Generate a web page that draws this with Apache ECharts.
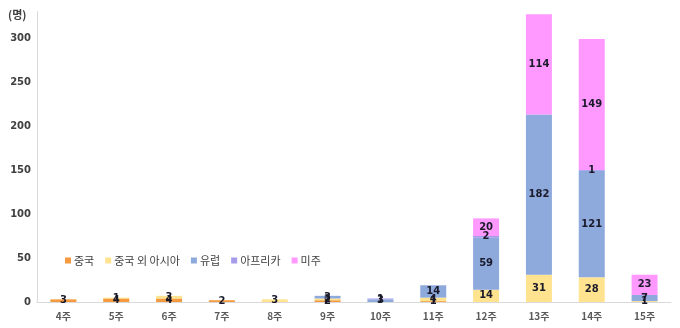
<!DOCTYPE html>
<html><head><meta charset="utf-8">
<script src="https://cdn.jsdelivr.net/npm/echarts@6/dist/echarts.min.js"></script>
<style>html,body{margin:0;padding:0;background:#fff}#c{width:680px;height:328px}</style>
</head><body><div id="c"></div>
<script>
const weeks = ['4주','5주','6주','7주','8주','9주','10주','11주','12주','13주','14주','15주'];
const china =    [3, 4, 4, 2, null, 2, null, 1, null, null, null, null];
const asiaEtc =  [null, 1, 3, null, 3, 2, null, 4, 14, 31, 28, 1];
const europe =   [null, null, null, null, null, 3, 3, 14, 59, 182, 121, 7];
const africa =   [null, null, null, null, null, null, 1, null, 2, null, 1, null];
const americas = [null, null, null, null, null, null, null, null, 20, 114, 149, 23];
const seriesNames = ['중국','중국 외 아시아','유럽','아프리카','미주'];
const colors = ['#F59A3E','#FFE38F','#8EA9DB','#A49CEA','#FF99FF'];
const yTicks = [0,50,100,150,200,250,300];

const font = '"DejaVu Sans", "Noto Sans CJK KR", sans-serif';
const chart = echarts.init(document.getElementById('c'));
const dataSets = [china, asiaEtc, europe, africa, americas];
chart.setOption({
  animation: false,
  grid: {left: 37, right: 9, top: 11.6, bottom: 26},
  legend: {
    left: 60, top: 250, icon: 'rect', itemWidth: 6, itemHeight: 6, itemGap: 11,
    textStyle: {fontFamily: '"Noto Sans CJK KR", sans-serif', fontSize: 11, color: '#404040', padding: [0,0,0,-2]},
    data: seriesNames
  },
  graphic: [{type: 'text', left: 8, top: 9, style: {text: '(명)', font: 'bold 11px "Noto Sans CJK KR", sans-serif', fill: '#404040'}}],
  xAxis: {
    type: 'category', data: weeks,
    axisLine: {lineStyle: {color: '#D9D9D9'}}, axisTick: {show: false},
    axisLabel: {fontFamily: '"Noto Sans CJK KR", sans-serif', fontWeight: 'bold', fontSize: 10, color: '#595959', margin: 9}
  },
  yAxis: {
    type: 'value', min: 0, max: 330, interval: 50,
    axisLine: {show: true, lineStyle: {color: '#D9D9D9'}}, axisTick: {show: false},
    splitLine: {show: false},
    axisLabel: {fontFamily: font, fontWeight: 'bold', fontSize: 10, color: '#404040', margin: 6,
      formatter: v => yTicks.includes(v) ? String(v) : ''}
  },
  series: seriesNames.map((n, i) => ({
    name: n, type: 'bar', stack: 'total', barWidth: 26, data: dataSets[i],
    itemStyle: {color: colors[i]},
    label: {show: true, position: 'inside', fontFamily: font, fontWeight: 'bold', fontSize: 10, color: '#1a1a2a'}
  }))
});
</script></body></html>
